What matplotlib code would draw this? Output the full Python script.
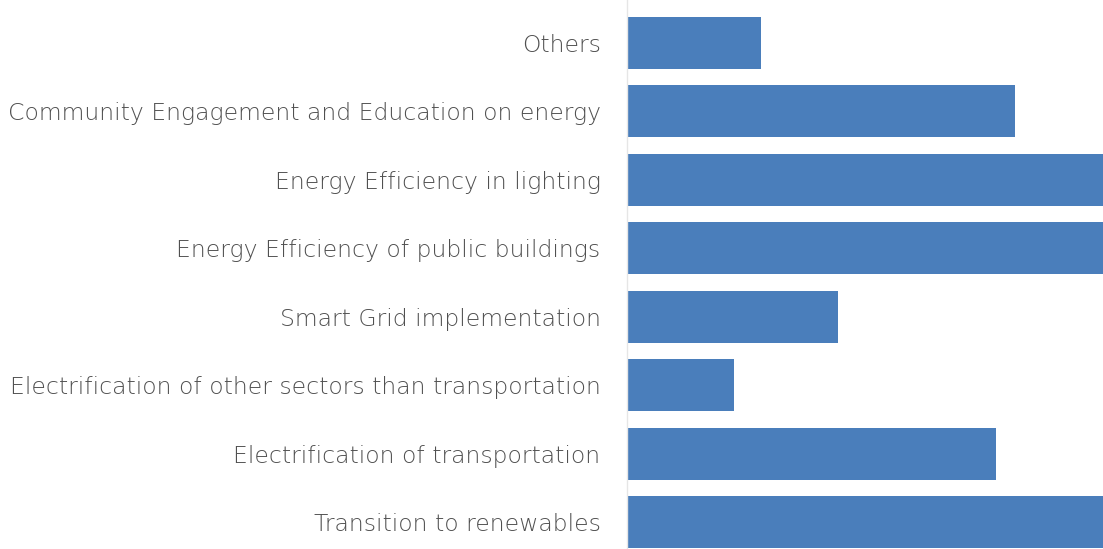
import matplotlib.pyplot as plt
import numpy as np

# categories listed bottom to top
categories = [
    'Transition to renewables',
    'Electrification of transportation',
    'Electrification of other sectors than transportation',
    'Smart Grid implementation',
    'Energy Efficiency of public buildings',
    'Energy Efficiency in lighting',
    'Community Engagement and Education on energy',
    'Others',
]
values = [21, 13.8, 4.0, 7.9, 20, 20, 14.5, 5.0]

plt.rcParams['font.family'] = ['DejaVu Sans']

fig = plt.figure(figsize=(11.03, 5.49), dpi=100)
ax = fig.add_axes([627 / 1103, 0, 476 / 1103, 1])

y = np.arange(len(categories))
ax.barh(y, values, height=0.76, color='#4a7ebb', edgecolor='none')

ax.set_xlim(0, 17.8)
ax.set_ylim(-0.395, 7.628)
ax.set_yticks(y)
ax.set_yticklabels(categories, fontsize=16.9, color='#505050', fontweight='light')
ax.tick_params(axis='y', length=0, pad=19)
ax.set_xticks([])

for side in ['top', 'right', 'bottom']:
    ax.spines[side].set_visible(False)
ax.spines['left'].set_color('#e6e6e6')
ax.spines['left'].set_linewidth(1.0)

fig.savefig('out.png', dpi=100)
